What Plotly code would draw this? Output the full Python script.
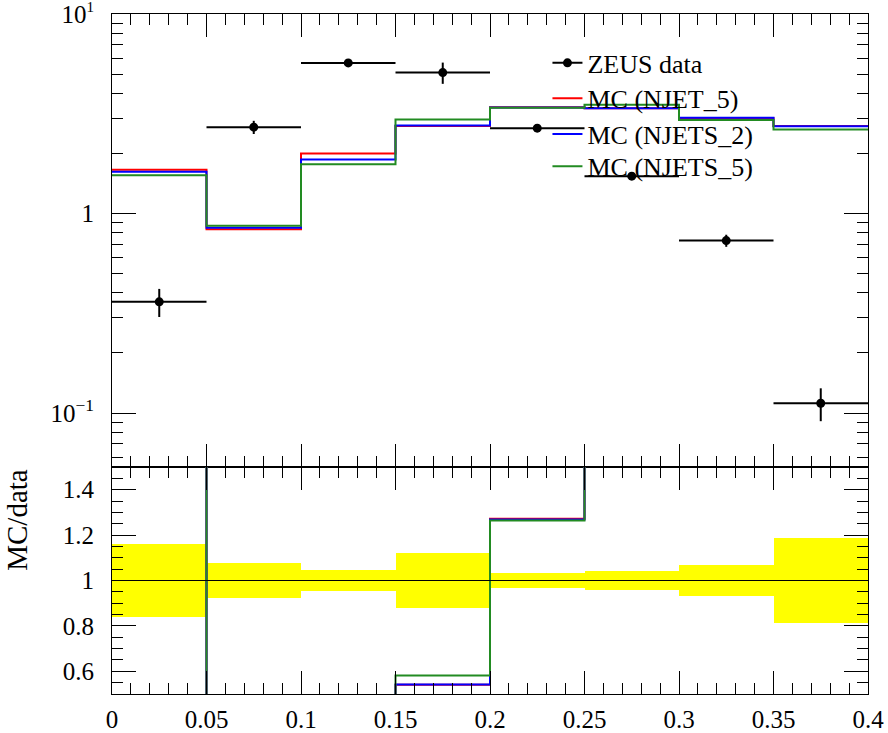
import plotly.graph_objects as go

# ---- data ----
bin_edges = [0.0, 0.05, 0.10, 0.15, 0.20, 0.25, 0.30, 0.35, 0.40]
x_tick_labels = ["0", "0.05", "0.1", "0.15", "0.2", "0.25", "0.3", "0.35", "0.4"]

data_y = [0.361, 2.71, 5.69, 5.09, 2.68, 1.54, 0.732, 0.112]
data_err = [0.058, 0.206, 0.262, 0.621, 0.091, 0.062, 0.051, 0.021]

mc_njet5 = [1.66, 0.834, 2.00, 2.75, 3.41, 3.37, 3.00, 2.75]
mc_njets2 = [1.62, 0.848, 1.865, 2.76, 3.40, 3.37, 3.02, 2.74]
mc_njets5 = [1.555, 0.868, 1.766, 2.96, 3.39, 3.51, 2.94, 2.64]

series_names = ["MC (NJET_5)", "MC (NJETS_2)", "MC (NJETS_5)"]
series_colors = ["#ff0000", "#0000ff", "#228b22"]

y_tick_vals = [0.1, 1, 10]
y_tick_text = ["10<sup>−1</sup>", "1", "10<sup><span style='font-size:15px'>1</span></sup>"]
r_tick_vals = [0.6, 0.8, 1.0, 1.2, 1.4]
r_tick_text = ["0.6", "0.8", "1", "1.2", "1.4"]

# ---- derived ----
centers = [(a + b) / 2 for a, b in zip(bin_edges[:-1], bin_edges[1:])]
halfw = [(b - a) / 2 for a, b in zip(bin_edges[:-1], bin_edges[1:])]
widths = [b - a for a, b in zip(bin_edges[:-1], bin_edges[1:])]
rel_err = [e / v for e, v in zip(data_err, data_y)]

FONT = "Liberation Serif"
fig = go.Figure()

# data points (no connecting line)
fig.add_trace(go.Scatter(
    x=centers, y=data_y, mode="markers", name="ZEUS data", showlegend=False,
    marker=dict(color="black", size=9),
    error_x=dict(type="data", array=halfw, width=0, thickness=2, color="black"),
    error_y=dict(type="data", array=data_err, width=0, thickness=2, color="black"),
    xaxis="x", yaxis="y",
))
# legend entry for the data (line + marker sample)
fig.add_trace(go.Scatter(
    x=[None], y=[None], mode="lines+markers", name="ZEUS data",
    line=dict(color="black", width=2), marker=dict(color="black", size=9),
    xaxis="x", yaxis="y", legend="legend",
))

legend_ids = ["legend2", "legend3", "legend4"]
for name, vals, col, lg in zip(series_names, [mc_njet5, mc_njets2, mc_njets5], series_colors, legend_ids):
    fig.add_trace(go.Scatter(
        x=bin_edges, y=vals + [vals[-1]], mode="lines", name=name,
        line=dict(color=col, width=2, shape="hv"),
        xaxis="x", yaxis="y", legend=lg,
    ))

# ratio band
fig.add_trace(go.Bar(
    x=centers, y=[2 * r for r in rel_err], base=[1 - r for r in rel_err],
    width=widths, marker=dict(color="#ffff00", line=dict(width=0)),
    showlegend=False, xaxis="x2", yaxis="y2",
))

for name, vals, col in zip(series_names, [mc_njet5, mc_njets2, mc_njets5], series_colors):
    ratio = [m / d for m, d in zip(vals, data_y)]
    fig.add_trace(go.Scatter(
        x=bin_edges, y=ratio + [ratio[-1]], mode="lines", name=name,
        line=dict(color=col, width=2, shape="hv"),
        showlegend=False, xaxis="x2", yaxis="y2",
    ))

fig.add_shape(type="line", xref="x2 domain", yref="y2", x0=0, x1=1, y0=1, y1=1,
              line=dict(color="black", width=1))

minor_log = [m * 10 ** e for e in (-2, -1, 0) for m in range(2, 10)]

axis_common = dict(showline=True, linecolor="black", linewidth=1, mirror="ticks",
                   ticks="inside", tickcolor="black", showgrid=False, zeroline=False,
                   automargin=False, ticklabeloverflow="allow",
                   tickfont=dict(family=FONT, size=25, color="black"))

split = 0.3338
legend_common = dict(xanchor="left", yanchor="middle", bgcolor="rgba(0,0,0,0)",
                     borderwidth=0, font=dict(family=FONT, size=26, color="black"))
lx = 0.576
fig.update_layout(
    width=888, height=733,
    margin=dict(l=112, r=20, t=14, b=39),
    paper_bgcolor="white", plot_bgcolor="white",
    font=dict(family=FONT, color="black"),
    bargap=0,
    xaxis=dict(domain=[0, 1], anchor="y", range=[0, 0.4], tickvals=bin_edges,
               showticklabels=False, ticklen=23,
               minor=dict(ticks="inside", ticklen=11, dtick=0.01, tick0=0, tickcolor="black"),
               **axis_common),
    yaxis=dict(domain=[split, 1], anchor="x", type="log", range=[-1.2707, 1.0003],
               tickvals=y_tick_vals, ticktext=y_tick_text, ticklen=24, ticklabelstandoff=12,
               minor=dict(ticks="inside", ticklen=11, tickmode="array", tickvals=minor_log,
                          tickcolor="black"),
               **axis_common),
    xaxis2=dict(domain=[0, 1], anchor="y2", range=[0, 0.4], tickvals=bin_edges,
                ticktext=x_tick_labels, ticklen=23, ticklabelstandoff=3,
                minor=dict(ticks="inside", ticklen=11, dtick=0.01, tick0=0, tickcolor="black"),
                **axis_common),
    yaxis2=dict(domain=[0, split], anchor="x2", range=[0.5, 1.5],
                tickvals=r_tick_vals, ticktext=r_tick_text, ticklen=24, ticklabelstandoff=12,
                minor=dict(ticks="inside", ticklen=11, dtick=0.05, tick0=0.5, tickcolor="black"),
                **axis_common),
    legend=dict(x=lx, y=0.928, **legend_common),
    legend2=dict(x=lx, y=0.876, **legend_common),
    legend3=dict(x=lx, y=0.8235, **legend_common),
    legend4=dict(x=lx, y=0.776, **legend_common),
    annotations=[dict(text="MC/data", xref="paper", yref="y2 domain", x=-0.126, y=1,
                      xanchor="center", yanchor="top", textangle=-90, showarrow=False,
                      font=dict(family=FONT, size=29, color="black"))],
)

fig.write_html("out.html", config={"displayModeBar": False},
               post_script="document.body.style.margin='0';")
